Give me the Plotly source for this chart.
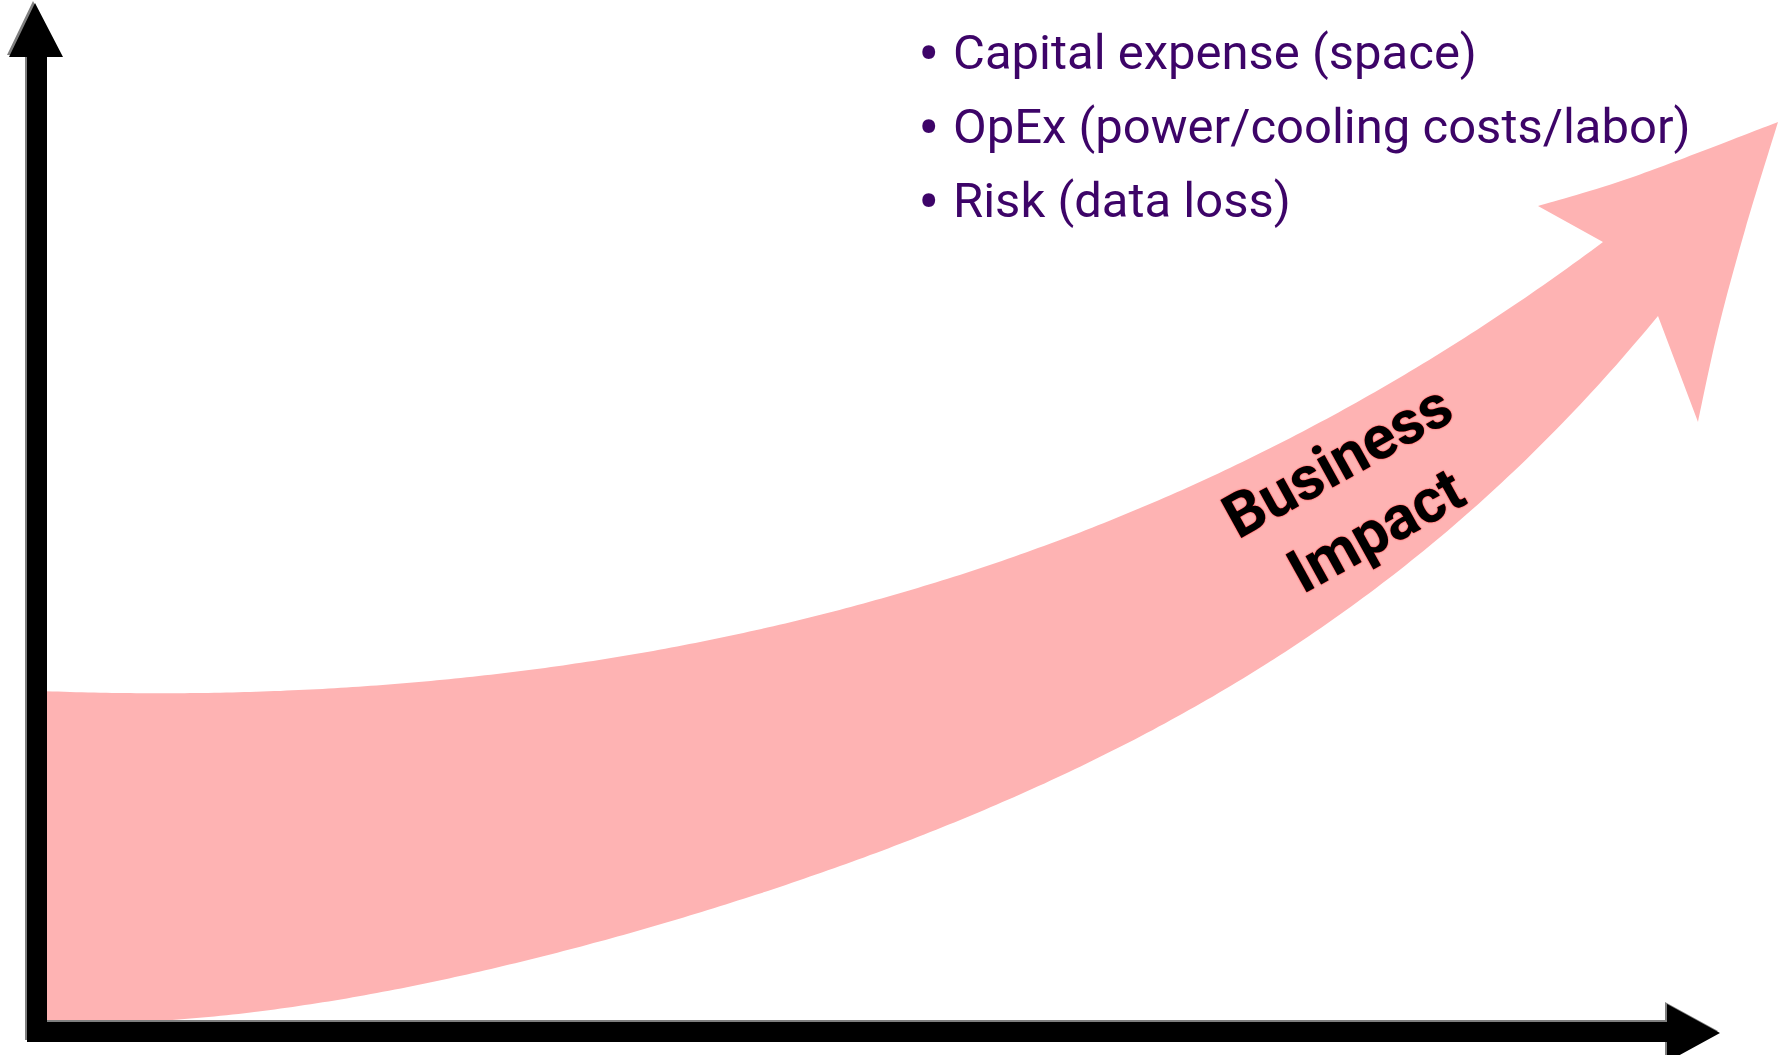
import numpy as np
import plotly.graph_objects as go

# Canvas size in pixels; the axes are mapped 1:1 onto it
W, H = 1783, 1055

# Points along the upper and lower edges of the rising "business impact" band
upper_x = [40, 300, 550, 700, 800, 850, 950, 1050, 1150, 1250, 1350, 1500, 1603]
upper_y = [691, 690, 668, 640, 621, 608, 577, 543, 505, 458, 407, 313, 242]
lower_x = [40, 300, 467, 633, 800, 950, 1050, 1150, 1250, 1350, 1417, 1548, 1600, 1658]
lower_y = [1022, 1000, 978, 937, 878, 822, 780, 733, 670, 608, 560, 440, 380, 316]

# Arrow head outline: upper barb -> tip -> lower barb
head_top_x = [1538, 1633, 1778]
head_top_y = [206, 177, 122]
head_right_x = [1778, 1745, 1718, 1698]
head_right_y = [122, 230, 330, 422]

# Black L-shaped axes with arrow heads
axes_x = [35, 63, 47, 47, 1667, 1667, 1720, 1667, 1667, 27, 27, 9]
axes_y = [3, 57, 57, 1022, 1022, 1004, 1033, 1062, 1042, 1042, 57, 57]

bullets = ["Capital expense (space)",
           "OpEx (power/cooling costs/labor)",
           "Risk (data loss)"]
bullet_y = [52.5, 126, 200]

PINK = "#feb3b3"
PURPLE = "#3d0468"


def smooth_edge(xs, ys, deg=4, step=6):
    """Least-squares smoothed edge, pinned at both ends, as SVG line segments."""
    xs = np.asarray(xs, float)
    ys = np.asarray(ys, float)
    u = (xs - xs[0]) / (xs[-1] - xs[0])
    w = np.ones_like(u)
    w[0] = w[-1] = 30.0
    coef = np.polyfit(u, ys, deg, w=w)
    n = max(int((xs[-1] - xs[0]) / step), 2)
    uu = np.linspace(0, 1, n + 1)
    px = xs[0] + uu * (xs[-1] - xs[0])
    py = np.polyval(coef, uu)
    py[0], py[-1] = ys[0], ys[-1]
    return list(zip(px, py))


def catmull(xs, ys):
    """Catmull-Rom curve through the points, as SVG cubic segments."""
    pts = list(zip(xs, ys))
    out = []
    for i in range(len(pts) - 1):
        p0 = pts[i - 1] if i > 0 else pts[i]
        p1, p2 = pts[i], pts[i + 1]
        p3 = pts[i + 2] if i + 2 < len(pts) else pts[i + 1]
        c1 = (p1[0] + (p2[0] - p0[0]) / 6, p1[1] + (p2[1] - p0[1]) / 6)
        c2 = (p2[0] - (p3[0] - p1[0]) / 6, p2[1] - (p3[1] - p1[1]) / 6)
        out.append(f"C {c1[0]:.1f},{c1[1]:.1f} {c2[0]:.1f},{c2[1]:.1f} {p2[0]},{p2[1]}")
    return " ".join(out)


def lines(pts):
    return " ".join(f"L {x:.1f},{y:.1f}" for x, y in pts)


up = smooth_edge(upper_x, upper_y)
lo = smooth_edge(lower_x, lower_y)[::-1]

band_path = (
    f"M {up[0][0]:.1f},{up[0][1]:.1f} " + lines(up[1:])
    + f" L {head_top_x[0]},{head_top_y[0]} " + catmull(head_top_x, head_top_y)
    + " " + catmull(head_right_x, head_right_y)
    + " " + lines(lo)
    + " Z"
)


def poly(xs, ys, dx=0, dy=0):
    pts = [f"{x + dx},{y + dy}" for x, y in zip(xs, ys)]
    return "M " + " L ".join(pts) + " Z"


shapes = [
    dict(type="path", path=band_path, xref="x", yref="y",
         fillcolor=PINK, line=dict(width=0), layer="above"),
    dict(type="path", path=poly(axes_x, axes_y, -2, -2), xref="x", yref="y",
         fillcolor="#7f7f7f", line=dict(width=0), layer="above"),
    dict(type="path", path=poly(axes_x, axes_y), xref="x", yref="y",
         fillcolor="#000000", line=dict(width=0), layer="above"),
]

annotations = []
for text, y in zip(bullets, bullet_y):
    annotations.append(dict(x=929, y=y + 2, xref="x", yref="y", text="•",
                            showarrow=False, xanchor="center", yanchor="middle",
                            font=dict(family="Roboto", size=64, color=PURPLE)))
    annotations.append(dict(x=951, y=y, xref="x", yref="y", text=text,
                            showarrow=False, xanchor="left", yanchor="middle",
                            font=dict(family="Roboto", size=49, color=PURPLE)))

annotations.append(dict(x=1356, y=495, xref="x", yref="y",
                        text="Business<br>Impact", textangle=-29,
                        showarrow=False, xanchor="center", yanchor="middle",
                        align="center",
                        font=dict(family="Roboto", size=61, color="#000000",
                                  weight="bold",
                                  shadow="0px 0px 1.5px #ff0000")))

fig = go.Figure()
fig.update_layout(
    width=W, height=H,
    margin=dict(l=0, r=0, t=0, b=0),
    paper_bgcolor="white", plot_bgcolor="white",
    xaxis=dict(range=[0, W], visible=False, fixedrange=True),
    yaxis=dict(range=[H, 0], visible=False, fixedrange=True),
    shapes=shapes,
    annotations=annotations,
    showlegend=False,
)

fig.write_html("out.html")
